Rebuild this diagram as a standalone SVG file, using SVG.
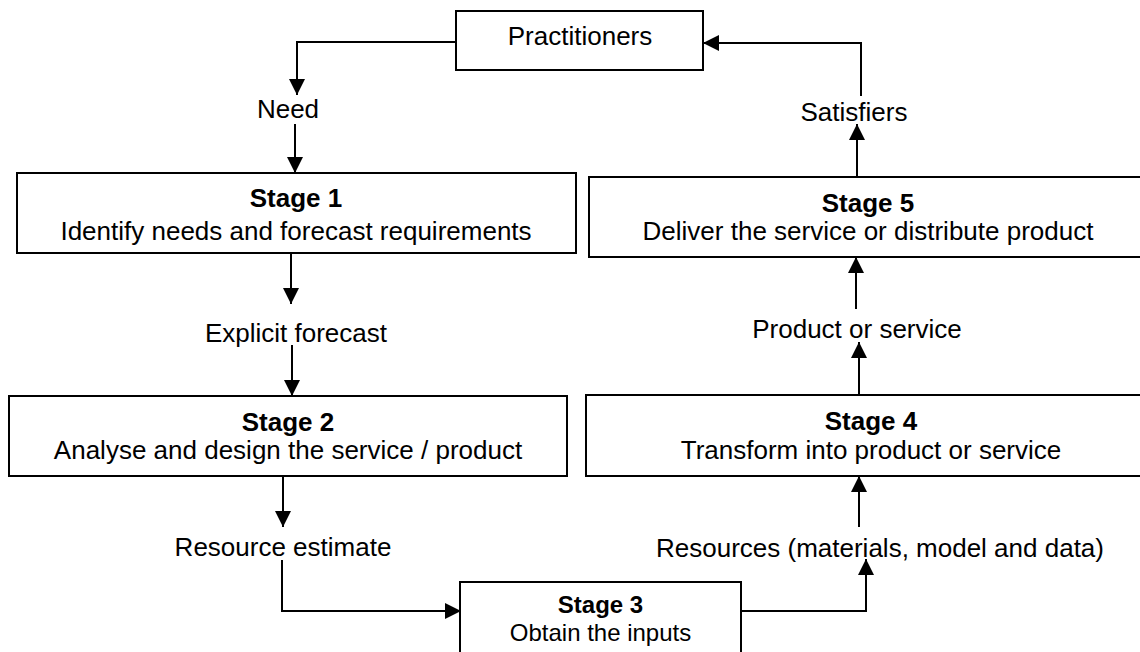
<svg xmlns="http://www.w3.org/2000/svg" width="1140" height="652" viewBox="0 0 1140 652">
  <defs>
    <style>
      .box { fill: #ffffff; stroke: #000000; stroke-width: 2; }
      .lbl { font-family: "Liberation Sans", Arial, sans-serif; font-size: 26px; fill: #000000; text-anchor: middle; }
      .ttl { font-weight: bold; }
      .sm { font-size: 24px; }
      .conn { fill: none; stroke: #000000; stroke-width: 2; marker-end: url(#arrow); }
    </style>
    <marker id="arrow" markerUnits="userSpaceOnUse" markerWidth="17" markerHeight="16" refX="16" refY="8" orient="auto">
      <path d="M0,0 L16,8 L0,16 Z" fill="#000000"/>
    </marker>
  </defs>
  <rect width="1140" height="652" fill="#ffffff"/>

  <!-- process nodes -->
  <g id="practitioners">
    <rect class="box" x="456" y="11" width="247" height="59"/>
    <text class="lbl" x="580" y="45">Practitioners</text>
  </g>
  <g id="stage1">
    <rect class="box" x="17" y="173" width="559" height="80"/>
    <text class="lbl ttl" x="296" y="207">Stage 1</text>
    <text class="lbl" x="296" y="240">Identify needs and forecast requirements</text>
  </g>
  <g id="stage2">
    <rect class="box" x="9" y="396" width="558" height="80"/>
    <text class="lbl ttl" x="288" y="431">Stage 2</text>
    <text class="lbl" x="288" y="459">Analyse and design the service / product</text>
  </g>
  <g id="stage3">
    <rect class="box" x="460" y="582" width="281" height="90"/>
    <text class="lbl ttl sm" x="600.5" y="613">Stage 3</text>
    <text class="lbl sm" x="600.5" y="641">Obtain the inputs</text>
  </g>
  <g id="stage4">
    <rect class="box" x="586" y="395" width="600" height="81"/>
    <text class="lbl ttl" x="871" y="430">Stage 4</text>
    <text class="lbl" x="871" y="459">Transform into product or service</text>
  </g>
  <g id="stage5">
    <rect class="box" x="589" y="177" width="600" height="80"/>
    <text class="lbl ttl" x="868" y="212">Stage 5</text>
    <text class="lbl" x="868" y="240">Deliver the service or distribute product</text>
  </g>

  <!-- flow labels -->
  <g id="flow-labels">
    <text class="lbl" x="288" y="118">Need</text>
    <text class="lbl" x="296" y="342">Explicit forecast</text>
    <text class="lbl" x="283" y="556">Resource estimate</text>
    <text class="lbl" x="880" y="557">Resources (materials, model and data)</text>
    <text class="lbl" x="857" y="338">Product or service</text>
    <text class="lbl" x="854" y="121">Satisfiers</text>
  </g>

  <!-- connectors -->
  <g id="connectors">
    <path class="conn" d="M456,42 H297 V95"/>
    <path class="conn" d="M295,124 V173"/>
    <path class="conn" d="M291,254 V304"/>
    <path class="conn" d="M292,345 V396"/>
    <path class="conn" d="M283,477 V527"/>
    <path class="conn" d="M282,560 V611 H461"/>
    <path class="conn" d="M741,611 H866 V559"/>
    <path class="conn" d="M859,527 V476"/>
    <path class="conn" d="M859,394 V342"/>
    <path class="conn" d="M856,309 V257"/>
    <path class="conn" d="M857,176 V124"/>
    <path class="conn" d="M861,96 V43 H703"/>
  </g>
</svg>
